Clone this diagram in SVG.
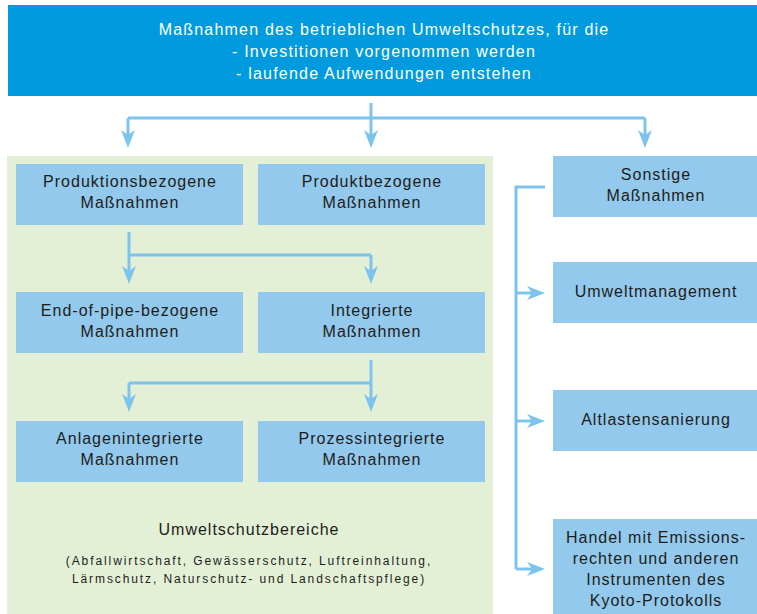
<svg xmlns="http://www.w3.org/2000/svg" width="757" height="614" viewBox="0 0 757 614">
  <defs>
    <style>
      .bg { fill: #ffffff; }
      .head { fill: #009BDE; }
      .area { fill: #E4F0D6; }
      .box { fill: #93C9EC; }
      .t { font-family: "Liberation Sans", Arial, sans-serif; font-size: 16px; letter-spacing: 1px; fill: #1d1d1b; text-anchor: middle; }
      .th { font-family: "Liberation Sans", Arial, sans-serif; font-size: 16px; letter-spacing: 1.2px; fill: #ffffff; text-anchor: middle; }
      .ts { font-family: "Liberation Sans", Arial, sans-serif; font-size: 12px; letter-spacing: 1.9px; fill: #1d1d1b; text-anchor: middle; }
      .c { fill: none; stroke: #7CC4EE; stroke-width: 3; }
      .ca { fill: none; stroke: #7CC4EE; stroke-width: 3; marker-end: url(#ah); }
    </style>
    <marker id="ah" viewBox="0 0 18 14" markerWidth="18" markerHeight="14" refX="8" refY="7" orient="auto" markerUnits="userSpaceOnUse">
      <path d="M0,0 L18,7 L0,14 L5,7 z" fill="#7CC4EE"/>
    </marker>
  </defs>
  <rect class="bg" x="0" y="0" width="757" height="614"/>

  <g id="header">
    <rect class="head" x="8" y="5" width="749" height="91"/>
    <text class="th" x="384" y="35">Maßnahmen des betrieblichen Umweltschutzes, für die</text>
    <text class="th" x="384" y="57">- Investitionen vorgenommen werden</text>
    <text class="th" x="384" y="79">- laufende Aufwendungen entstehen</text>
  </g>

  <g id="umweltschutzbereiche">
    <rect class="area" x="7" y="156" width="486" height="458"/>
    <text class="t" x="249" y="535">Umweltschutzbereiche</text>
    <text class="ts" x="249" y="565">(Abfallwirtschaft, Gewässerschutz, Luftreinhaltung,</text>
    <text class="ts" x="249" y="583">Lärmschutz, Naturschutz- und Landschaftspflege)</text>
  </g>

  <g id="produktionsbezogene">
    <rect class="box" x="16" y="164" width="227" height="61"/>
    <text class="t" x="130" y="187">Produktionsbezogene</text>
    <text class="t" x="130" y="208">Maßnahmen</text>
  </g>
  <g id="produktbezogene">
    <rect class="box" x="258" y="164" width="227" height="61"/>
    <text class="t" x="372" y="187">Produktbezogene</text>
    <text class="t" x="372" y="208">Maßnahmen</text>
  </g>
  <g id="endofpipe">
    <rect class="box" x="16" y="292" width="227" height="61"/>
    <text class="t" x="130" y="316">End-of-pipe-bezogene</text>
    <text class="t" x="130" y="337">Maßnahmen</text>
  </g>
  <g id="integrierte">
    <rect class="box" x="258" y="292" width="227" height="61"/>
    <text class="t" x="372" y="316">Integrierte</text>
    <text class="t" x="372" y="337">Maßnahmen</text>
  </g>
  <g id="anlagenintegrierte">
    <rect class="box" x="16" y="421" width="227" height="61"/>
    <text class="t" x="130" y="444">Anlagenintegrierte</text>
    <text class="t" x="130" y="465">Maßnahmen</text>
  </g>
  <g id="prozessintegrierte">
    <rect class="box" x="258" y="421" width="227" height="61"/>
    <text class="t" x="372" y="444">Prozessintegrierte</text>
    <text class="t" x="372" y="465">Maßnahmen</text>
  </g>

  <g id="sonstige">
    <rect class="box" x="553" y="156" width="204" height="61"/>
    <text class="t" x="656" y="180">Sonstige</text>
    <text class="t" x="656" y="201">Maßnahmen</text>
  </g>
  <g id="umweltmanagement">
    <rect class="box" x="553" y="262" width="204" height="61"/>
    <text class="t" x="656" y="297">Umweltmanagement</text>
  </g>
  <g id="altlastensanierung">
    <rect class="box" x="553" y="390" width="204" height="61"/>
    <text class="t" x="656" y="425">Altlastensanierung</text>
  </g>
  <g id="handel">
    <rect class="box" x="553" y="519" width="204" height="95"/>
    <text class="t" x="656" y="543">Handel mit Emissions-</text>
    <text class="t" x="656" y="564">rechten und anderen</text>
    <text class="t" x="656" y="585">Instrumenten des</text>
    <text class="t" x="656" y="606">Kyoto-Protokolls</text>
  </g>

  <g id="connectors">
    <path class="ca" d="M371,103 V138"/>
    <path class="c" d="M128,118 H645"/>
    <path class="ca" d="M128,118 V138"/>
    <path class="ca" d="M645,118 V138"/>

    <path class="ca" d="M129,232 V274"/>
    <path class="c" d="M129,255 H371"/>
    <path class="ca" d="M371,255 V274"/>

    <path class="ca" d="M371,360 V402"/>
    <path class="c" d="M371,383 H129"/>
    <path class="ca" d="M129,383 V402"/>

    <path class="c" d="M545,187 H516 V569"/>
    <path class="ca" d="M516,293 H535"/>
    <path class="ca" d="M516,421 H535"/>
    <path class="ca" d="M516,569 H535"/>
  </g>
</svg>
